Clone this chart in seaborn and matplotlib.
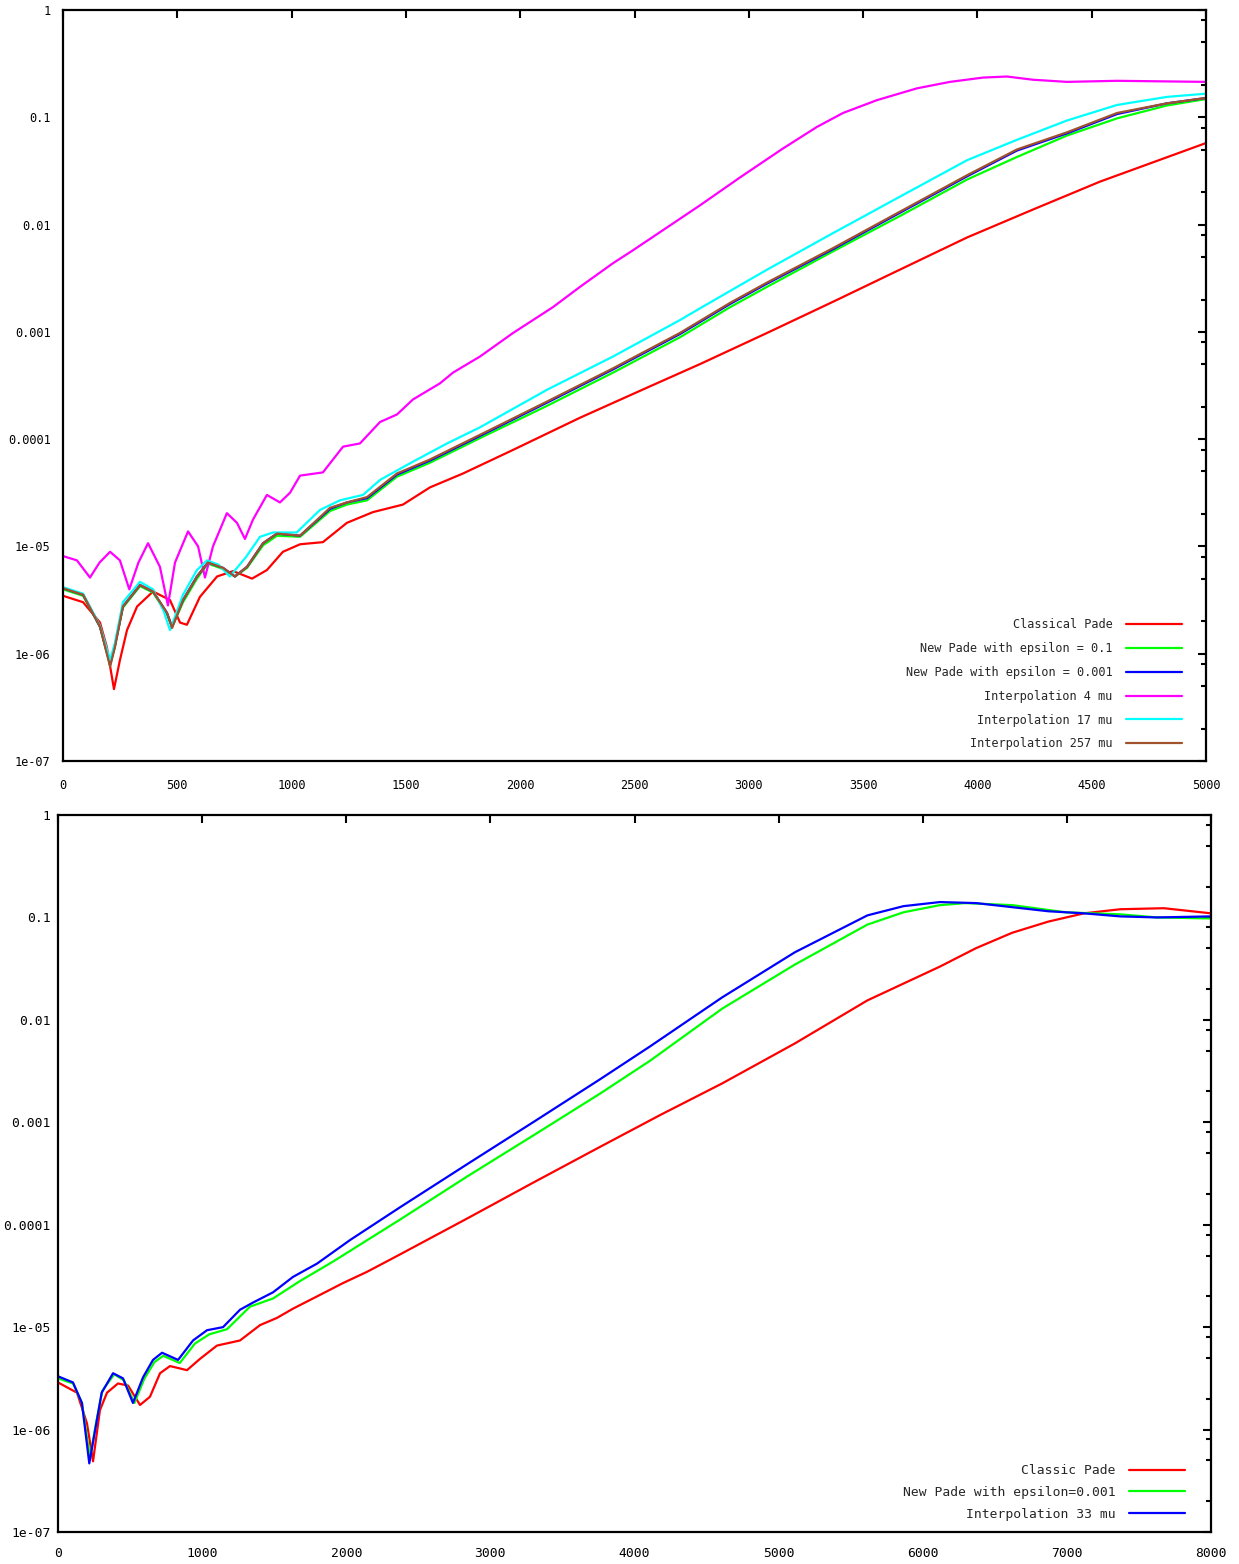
import numpy as np
import pandas as pd
import matplotlib
matplotlib.use("Agg")
import matplotlib.pyplot as plt
import seaborn as sns
from matplotlib.ticker import FixedLocator, NullFormatter

# ---------------- top panel: values read as log10(error) ----------------
top_red_x = [0, 88, 162, 192, 223, 249, 280, 324, 394, 468, 512, 542, 599, 674, 744, 827, 892, 962,
             1037, 1137, 1242, 1356, 1487, 1605, 1750, 1969, 2262, 2555, 2787, 3080, 3368, 3661, 3955,
             4243, 4536, 5000]
top_red_log = [-5.46, -5.52, -5.71, -5.94, -6.33, -6.06, -5.78, -5.56, -5.42, -5.50, -5.71, -5.73, -5.47,
               -5.28, -5.23, -5.30, -5.22, -5.05, -4.98, -4.96, -4.78, -4.68, -4.61, -4.45, -4.32, -4.10,
               -3.80, -3.52, -3.30, -3.01, -2.72, -2.42, -2.12, -1.86, -1.60, -1.24]

top_grp_x = [0, 88, 162, 206, 227, 262, 337, 394, 455, 477, 525, 586, 634, 700, 752, 805, 875, 936,
             1037, 1168, 1242, 1330, 1461, 1605, 1824, 2117, 2406, 2699, 2918, 3080, 3368, 3661, 3955,
             4173, 4392, 4611, 4829, 5000]
top_brown_log = [-5.39, -5.45, -5.75, -6.12, -5.94, -5.56, -5.36, -5.42, -5.62, -5.76, -5.50, -5.28, -5.15,
                 -5.20, -5.28, -5.19, -4.97, -4.88, -4.90, -4.64, -4.59, -4.54, -4.32, -4.19, -3.96, -3.65,
                 -3.34, -3.01, -2.73, -2.54, -2.22, -1.88, -1.54, -1.30, -1.14, -0.96, -0.87, -0.82]
top_blue_log = [-5.39, -5.45, -5.75, -6.10, -5.93, -5.56, -5.36, -5.42, -5.62, -5.75, -5.50, -5.28, -5.15,
                -5.20, -5.28, -5.19, -4.97, -4.88, -4.90, -4.65, -4.59, -4.55, -4.33, -4.20, -3.97, -3.66,
                -3.35, -3.02, -2.74, -2.55, -2.23, -1.89, -1.55, -1.31, -1.15, -0.97, -0.87, -0.82]
top_green_log = [-5.40, -5.46, -5.75, -6.10, -5.92, -5.57, -5.37, -5.43, -5.63, -5.75, -5.52, -5.30, -5.16,
                 -5.21, -5.28, -5.20, -4.99, -4.90, -4.91, -4.67, -4.61, -4.57, -4.35, -4.22, -3.99, -3.69,
                 -3.38, -3.05, -2.77, -2.58, -2.25, -1.92, -1.58, -1.37, -1.17, -1.01, -0.89, -0.83]

top_cyan_x = [0, 88, 162, 206, 227, 262, 337, 394, 440, 468, 525, 586, 630, 680, 730, 800, 862, 919,
              1022, 1124, 1212, 1312, 1387, 1531, 1680, 1824, 2117, 2406, 2699, 2787, 3080, 3368, 3661,
              3955, 4173, 4392, 4611, 4829, 5000]
top_cyan_log = [-5.38, -5.44, -5.74, -6.06, -5.90, -5.52, -5.33, -5.40, -5.60, -5.78, -5.45, -5.22, -5.13,
                -5.17, -5.28, -5.10, -4.91, -4.87, -4.87, -4.66, -4.57, -4.52, -4.38, -4.21, -4.04, -3.89,
                -3.54, -3.23, -2.89, -2.78, -2.42, -2.08, -1.74, -1.40, -1.21, -1.03, -0.885, -0.81, -0.78]

top_mag_x = [0, 61, 118, 160, 206, 249, 290, 330, 372, 424, 459, 490, 547, 591, 621, 656, 717, 761, 796,
             831, 892, 949, 993, 1037, 1137, 1225, 1299, 1387, 1461, 1531, 1649, 1706, 1824, 1969, 2143,
             2262, 2406, 2493, 2787, 2962, 3150, 3298, 3412, 3561, 3736, 3880, 4024, 4129, 4243, 4392,
             4611, 5000]
top_mag_log = [-5.09, -5.13, -5.29, -5.15, -5.05, -5.13, -5.40, -5.15, -4.97, -5.19, -5.55, -5.15, -4.86,
               -5.00, -5.29, -5.00, -4.69, -4.78, -4.93, -4.75, -4.52, -4.59, -4.50, -4.34, -4.31, -4.07,
               -4.04, -3.84, -3.77, -3.63, -3.48, -3.38, -3.23, -3.01, -2.77, -2.58, -2.36, -2.24, -1.82,
               -1.56, -1.29, -1.09, -0.96, -0.84, -0.73, -0.67, -0.63, -0.62, -0.65, -0.67, -0.66, -0.67]

top_labels = ["Classical Pade", "New Pade with epsilon = 0.1", "New Pade with epsilon = 0.001",
              "Interpolation 4 mu", "Interpolation 17 mu", "Interpolation 257 mu"]
top_colors = ["#ff0000", "#00ff00", "#0000ff", "#ff00ff", "#00ffff", "#a0522d"]

# ---------------- bottom panel ----------------
bot_red_x = [0, 132, 201, 243, 291, 340, 416, 486, 569, 638, 708, 777, 895, 985, 1103, 1263, 1402, 1519,
             1630, 1797, 1977, 2144, 2373, 2838, 3296, 3761, 4177, 4609, 5113, 5616, 6119, 6370, 6620,
             6873, 7119, 7371, 7673, 8000]
bot_red_log = [-5.54, -5.64, -5.94, -6.31, -5.81, -5.64, -5.55, -5.57, -5.76, -5.68, -5.45, -5.38, -5.42,
               -5.31, -5.18, -5.13, -4.98, -4.91, -4.82, -4.70, -4.57, -4.46, -4.29, -3.94, -3.59, -3.24,
               -2.93, -2.62, -2.23, -1.81, -1.48, -1.30, -1.15, -1.04, -0.96, -0.92, -0.91, -0.96]

bot_green_x = [0, 104, 166, 222, 262, 308, 390, 458, 530, 600, 670, 730, 845, 950, 1050, 1173, 1332, 1492,
               1679, 1908, 2373, 2838, 3296, 3761, 4107, 4609, 5113, 5616, 5866, 6119, 6294, 6620, 6993,
               7371, 7624, 8000]
bot_green_log = [-5.50, -5.55, -5.74, -6.28, -5.95, -5.62, -5.46, -5.52, -5.74, -5.50, -5.34, -5.28, -5.35,
                 -5.16, -5.07, -5.02, -4.80, -4.72, -4.55, -4.36, -3.95, -3.53, -3.13, -2.72, -2.40, -1.89,
                 -1.46, -1.07, -0.95, -0.88, -0.86, -0.88, -0.95, -0.97, -1.00, -1.01]

bot_blue_x = [0, 104, 166, 217, 257, 303, 382, 451, 520, 590, 659, 722, 833, 937, 1034, 1145, 1263, 1353,
              1492, 1630, 1797, 2026, 2373, 2838, 3296, 3761, 4107, 4609, 5113, 5616, 5866, 6119, 6370,
              6873, 7119, 7371, 7624, 8000]
bot_blue_log = [-5.48, -5.54, -5.74, -6.33, -6.01, -5.64, -5.45, -5.50, -5.74, -5.49, -5.32, -5.25, -5.32,
                -5.13, -5.03, -5.00, -4.83, -4.76, -4.66, -4.51, -4.38, -4.15, -3.83, -3.41, -3.00, -2.58,
                -2.26, -1.78, -1.34, -0.98, -0.89, -0.85, -0.86, -0.94, -0.96, -0.99, -1.00, -0.99]

bot_labels = ["Classic Pade", "New Pade with epsilon=0.001", "Interpolation 33 mu"]
bot_colors = ["#ff0000", "#00ff00", "#0000ff"]

y_tick_vals = [1e-7, 1e-6, 1e-5, 1e-4, 1e-3, 1e-2, 1e-1, 1]
y_tick_text = ["1e-07", "1e-06", "1e-05", "0.0001", "0.001", "0.01", "0.1", "1"]
top_xticks = [0, 500, 1000, 1500, 2000, 2500, 3000, 3500, 4000, 4500, 5000]
bot_xticks = [0, 1000, 2000, 3000, 4000, 5000, 6000, 7000, 8000]

# ---------------- build frames ----------------
def frame(parts):
    rows = []
    for label, xs, logs in parts:
        for i, (xv, lv) in enumerate(zip(xs, logs)):
            rows.append({"x": xv, "err": 10.0 ** lv, "series": label, "order": i})
    return pd.DataFrame(rows)

top_df = frame([
    (top_labels[0], top_red_x, top_red_log),
    (top_labels[1], top_grp_x, top_green_log),
    (top_labels[2], top_grp_x, top_blue_log),
    (top_labels[3], top_mag_x, top_mag_log),
    (top_labels[4], top_cyan_x, top_cyan_log),
    (top_labels[5], top_grp_x, top_brown_log),
])
bot_df = frame([
    (bot_labels[0], bot_red_x, bot_red_log),
    (bot_labels[1], bot_green_x, bot_green_log),
    (bot_labels[2], bot_blue_x, bot_blue_log),
])

sns.set_theme(style="white")
plt.rcParams["font.family"] = ["DejaVu Sans Mono", "DejaVu Sans"]

fig = plt.figure(figsize=(12.39, 15.64), dpi=100)
W, H = 1239, 1564
ax1 = fig.add_axes([63 / W, 1 - 761 / H, (1206 - 63) / W, (761 - 10) / H])
ax2 = fig.add_axes([58 / W, 1 - 1532 / H, (1211 - 58) / W, (1532 - 815) / H])

LW = 1.6
sns.lineplot(data=top_df, x="x", y="err", hue="series", hue_order=top_labels,
             palette=dict(zip(top_labels, top_colors)), sort=False, estimator=None,
             units="series", linewidth=LW, ax=ax1, legend=False)
sns.lineplot(data=bot_df, x="x", y="err", hue="series", hue_order=bot_labels,
             palette=dict(zip(bot_labels, bot_colors)), sort=False, estimator=None,
             units="series", linewidth=LW, ax=ax2, legend=False)

FS_TOP = 8.6
FS_BOT = 9.4

def style(ax, xmax, xticks, ypad, xpad, fs):
    ax.set_yscale("log")
    ax.set_xlim(0, xmax)
    ax.set_ylim(1e-7, 1)
    ax.set_xlabel("")
    ax.set_ylabel("")
    ax.xaxis.set_major_locator(FixedLocator(xticks))
    ax.set_xticklabels([str(t) for t in xticks])
    ax.yaxis.set_major_locator(FixedLocator(y_tick_vals))
    ax.set_yticklabels(y_tick_text)
    minors = [m * 10.0 ** e for e in range(-7, 0) for m in (2, 5, 8)]
    ax.yaxis.set_minor_locator(FixedLocator(minors))
    ax.yaxis.set_minor_formatter(NullFormatter())
    ax.xaxis.set_minor_locator(FixedLocator([]))
    ax.tick_params(which="both", direction="in", top=True, right=True, colors="black",
                   labelcolor="black", labelsize=fs)
    ax.tick_params(which="major", length=6, width=1.5)
    ax.tick_params(which="minor", length=3.5, width=1.5)
    ax.tick_params(axis="y", which="major", pad=ypad)
    ax.tick_params(axis="x", which="major", pad=xpad)
    for s in ax.spines.values():
        s.set_color("black")
        s.set_linewidth(1.6)
    ax.set_facecolor("white")

style(ax1, 5000, top_xticks, 9, 13, FS_TOP)
style(ax2, 8000, bot_xticks, 5.5, 11, FS_BOT)

# legends
for ax, labels, colors, anchor, sp, fs, hl, htp in [
        (ax1, top_labels, top_colors, (0.979, 0.014), 0.91, FS_TOP, 4.7, 1.1),
        (ax2, bot_labels, bot_colors, (0.9775, 0.016), 0.66, FS_BOT, 4.3, 1.0)]:
    handles = [plt.Line2D([], [], color=c, lw=LW) for c in colors]
    ax.legend(handles, labels, loc="lower right", bbox_to_anchor=anchor, frameon=False,
              markerfirst=False, fontsize=fs, handlelength=hl, handletextpad=htp,
              labelspacing=sp, borderpad=0, borderaxespad=0)

fig.savefig("out.png", dpi=100, facecolor="white")
